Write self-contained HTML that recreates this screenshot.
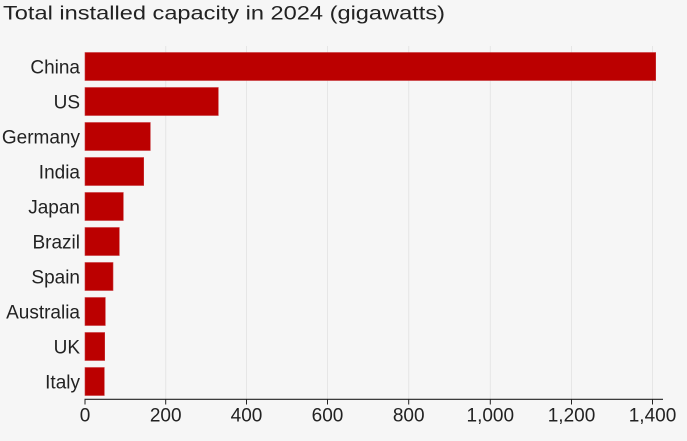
<!DOCTYPE html>
<html>
<head>
<meta charset="utf-8">
<style>
  html, body { margin: 0; padding: 0; background: #f6f6f6; }
  svg { display: block; }
  text { font-family: "Liberation Sans", "DejaVu Sans", sans-serif; fill: #222222; }
</style>
</head>
<body>
<svg width="687" height="441" viewBox="0 0 687 441" xmlns="http://www.w3.org/2000/svg">
  <rect x="0" y="0" width="687" height="441" fill="#f6f6f6"/>
  <text x="3" y="19.5" font-size="19.5" textLength="442" lengthAdjust="spacingAndGlyphs">Total installed capacity in 2024 (gigawatts)</text>

  <!-- gridlines -->
  <g stroke="#e6e6e6" stroke-width="1">
    <line x1="165.7" y1="46" x2="165.7" y2="399"/>
    <line x1="246.5" y1="46" x2="246.5" y2="399"/>
    <line x1="327.5" y1="46" x2="327.5" y2="399"/>
    <line x1="408.7" y1="46" x2="408.7" y2="399"/>
    <line x1="490.3" y1="46" x2="490.3" y2="399"/>
    <line x1="571.5" y1="46" x2="571.5" y2="399"/>
    <line x1="652.5" y1="46" x2="652.5" y2="399"/>
  </g>

  <!-- bars -->
  <g fill="#bb0000" stroke="#c8363a" stroke-width="0.6">
    <rect x="85" y="52.5" width="570.7" height="28"/>
    <rect x="85" y="87.5" width="133.3" height="28"/>
    <rect x="85" y="122.5" width="65.3" height="28"/>
    <rect x="85" y="157.5" width="58.7" height="28"/>
    <rect x="85" y="192.5" width="38.3" height="28"/>
    <rect x="85" y="227.5" width="34.3" height="28"/>
    <rect x="85" y="262.5" width="28" height="28"/>
    <rect x="85" y="297.5" width="20.3" height="28"/>
    <rect x="85" y="332.5" width="19.7" height="28"/>
    <rect x="85" y="367.5" width="19.3" height="28"/>
  </g>

  <!-- category labels -->
  <g font-size="19" text-anchor="end">
    <text x="80" y="73.3">China</text>
    <text x="80" y="108.3">US</text>
    <text x="80" y="143.3">Germany</text>
    <text x="80" y="178.3">India</text>
    <text x="80" y="213.3">Japan</text>
    <text x="80" y="248.3">Brazil</text>
    <text x="80" y="283.3">Spain</text>
    <text x="80" y="318.3">Australia</text>
    <text x="80" y="353.3">UK</text>
    <text x="80" y="388.3">Italy</text>
  </g>

  <!-- axis -->
  <line x1="84.5" y1="399.3" x2="663" y2="399.3" stroke="#222222" stroke-width="1.2"/>
  <g stroke="#222222" stroke-width="1">
    <line x1="85" y1="399" x2="85" y2="404.5"/>
    <line x1="165.7" y1="399" x2="165.7" y2="404.5"/>
    <line x1="246.5" y1="399" x2="246.5" y2="404.5"/>
    <line x1="327.5" y1="399" x2="327.5" y2="404.5"/>
    <line x1="408.7" y1="399" x2="408.7" y2="404.5"/>
    <line x1="490.3" y1="399" x2="490.3" y2="404.5"/>
    <line x1="571.5" y1="399" x2="571.5" y2="404.5"/>
    <line x1="652.5" y1="399" x2="652.5" y2="404.5"/>
  </g>
  <g font-size="19" text-anchor="middle">
    <text x="85" y="421.7">0</text>
    <text x="165.7" y="421.7">200</text>
    <text x="246.5" y="421.7">400</text>
    <text x="327.5" y="421.7">600</text>
    <text x="408.7" y="421.7">800</text>
    <text x="490.3" y="421.7">1,000</text>
    <text x="571.5" y="421.7">1,200</text>
    <text x="652.5" y="421.7">1,400</text>
  </g>
</svg>
</body>
</html>
